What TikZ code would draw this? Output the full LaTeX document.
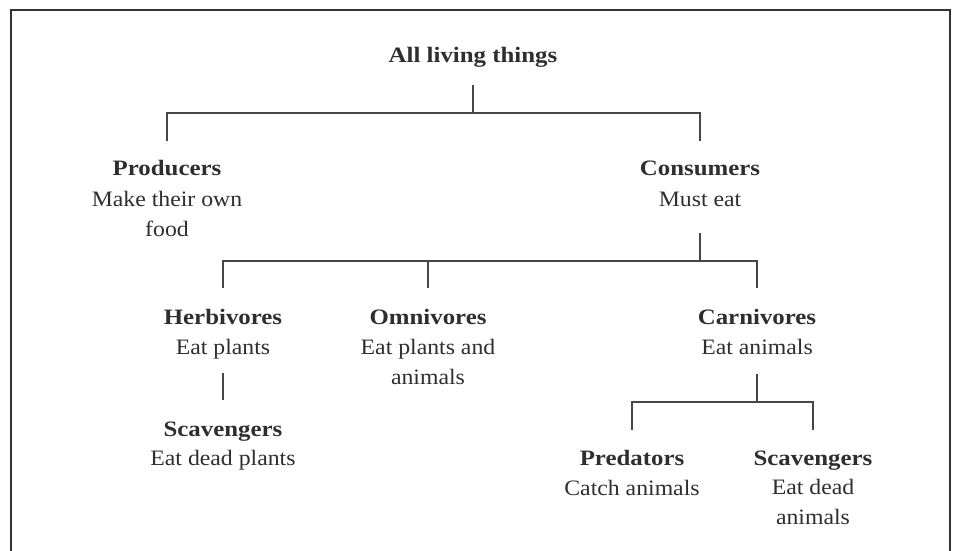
\documentclass[tikz,border=0pt]{standalone}
\usepackage{fontspec}
\setmainfont{Liberation Serif}[FakeStretch=1.08, BoldFeatures={FakeStretch=1.13}]
\begin{document}
\begin{tikzpicture}[x=1pt,y=-1pt,
  txt/.style={text=black!82, font=\fontsize{22}{30}\selectfont, align=center, inner sep=0pt, anchor=base},
  head/.style={txt, font=\fontsize{22}{30}\selectfont\bfseries},
  link/.style={draw=black!72, line width=1.3pt},
  frame/.style={draw=black!80, line width=2pt}]
\useasboundingbox (0,0) rectangle (956,551);

% open frame
\draw[frame] (11,551) -- (11,10) -- (950,10) -- (950,551);

% level 0 (two-line nodes are placed by the baseline of their last line)
\node[head] (all) at (473,63) {All living things};

% level 1
\node[head] (prod) at (167,175) {Producers};
\node[txt] (prodd) at (167,236) {Make their own\\food};
\node[head] (cons) at (700,175) {Consumers};
\node[txt] (consd) at (700,206) {Must eat};

% level 2
\node[head] (herb) at (223,324) {Herbivores};
\node[txt] (herbd) at (223,354) {Eat plants};
\node[head] (omni) at (428,324) {Omnivores};
\node[txt] (omnid) at (428,384) {Eat plants and\\animals};
\node[head] (carn) at (757,324) {Carnivores};
\node[txt] (carnd) at (757,354) {Eat animals};

% level 3
\node[head] (scav1) at (223,436) {Scavengers};
\node[txt] (scav1d) at (223,465) {Eat dead plants};
\node[head] (pred) at (632,465) {Predators};
\node[txt] (predd) at (632,495) {Catch animals};
\node[head] (scav2) at (813,465) {Scavengers};
\node[txt] (scav2d) at (813,524) {Eat dead\\animals};

% branch points
\coordinate (j0) at (473,113);
\coordinate (j1) at (700,261);
\coordinate (j2) at (757,402);

% connectors
\draw[link] (all.south |- 0,85) -- (j0);
\draw[link] (prod.north |- 0,141) -- (prod.north |- j0) -- (cons.north |- j0) -- (cons.north |- 0,141);
\draw[link] (consd.south |- 0,233) -- (j1);
\draw[link] (herb.north |- 0,288) -- (herb.north |- j1) -- (carn.north |- j1) -- (carn.north |- 0,288);
\draw[link] (omni.north |- j1) -- (omni.north |- 0,288);
\draw[link] (herbd.south |- 0,373) -- (scav1.north |- 0,400);
\draw[link] (carnd.south |- 0,374) -- (j2);
\draw[link] (pred.north |- 0,430) -- (pred.north |- j2) -- (scav2.north |- j2) -- (scav2.north |- 0,430);
\end{tikzpicture}
\end{document}
